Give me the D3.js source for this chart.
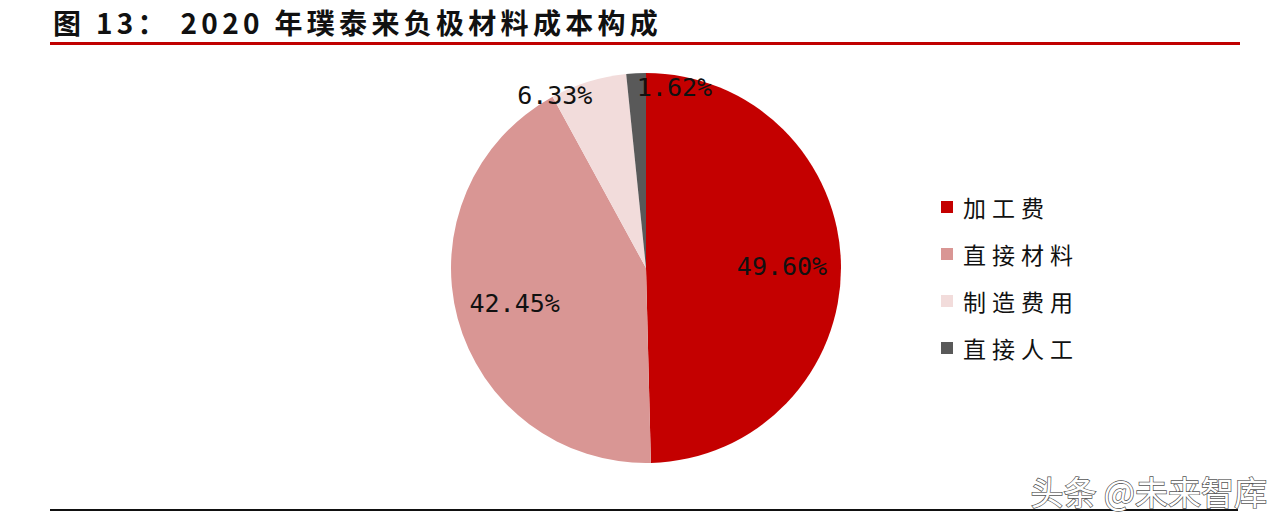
<!DOCTYPE html>
<html><head><meta charset="utf-8">
<script src="https://cdn.jsdelivr.net/npm/d3@7"></script>
<style>
body{margin:0;background:#fff;}
svg{display:block;}
</style></head>
<body>
<svg id="c" width="1282" height="524"></svg>
<script>
const title = "图 13： 2020 年璞泰来负极材料成本构成";
const categories = ["加工费", "直接材料", "制造费用", "直接人工"];
const values = [49.60, 42.45, 6.33, 1.62];
const labels = ["49.60%", "42.45%", "6.33%", "1.62%"];
const colors = ["#C40000", "#D99694", "#F2DCDB", "#595959"];
const watermark = "头条 @未来智库";

const svg = d3.select("#c");
const cx = 646, cy = 268, R = 195;

// title
svg.append("text").attr("x", 53).attr("y", 34)
  .attr("font-family", "'Noto Sans CJK SC', sans-serif")
  .attr("font-weight", "bold").attr("font-size", 28).attr("letter-spacing", 4.3).attr("fill", "#111")
  .text(title);
svg.append("line").attr("x1", 50).attr("x2", 1240).attr("y1", 43.5).attr("y2", 43.5)
  .attr("stroke", "#C00000").attr("stroke-width", 3);

// pie
const pie = d3.pie().sort(null).value(d => d)(values);
const arc = d3.arc().innerRadius(0).outerRadius(R);
const g = svg.append("g").attr("transform", `translate(${cx},${cy})`);
g.selectAll("path").data(pie).join("path")
  .attr("d", arc).attr("fill", (d, i) => colors[i]);

const inner = d3.arc().innerRadius(136).outerRadius(136);
const outer = d3.arc().innerRadius(181).outerRadius(181);
g.selectAll("text.lbl").data(pie).join("text").attr("class", "lbl")
  .attr("transform", (d, i) => {
    const c = (i < 2 ? inner : outer).centroid(d);
    return `translate(${c[0]},${c[1]})`;
  })
  .attr("text-anchor", (d, i) => i < 2 ? "middle" : (i === 2 ? "end" : "start"))
  .attr("dominant-baseline", "central")
  .attr("font-family", "'DejaVu Sans Mono', monospace")
  .attr("font-size", 25).attr("fill", "#111")
  .text((d, i) => labels[i]);

// legend
const ly = d3.scalePoint().domain(categories).range([207, 348]);
const lg = svg.append("g");
lg.selectAll("rect").data(categories).join("rect")
  .attr("x", 941).attr("y", d => ly(d) - 6).attr("width", 12).attr("height", 12)
  .attr("fill", (d, i) => colors[i]);
lg.selectAll("text").data(categories).join("text")
  .attr("x", 963).attr("y", d => ly(d)).attr("dominant-baseline", "central")
  .attr("font-family", "'Noto Sans CJK SC', sans-serif")
  .attr("font-size", 23).attr("letter-spacing", 6).attr("fill", "#111")
  .text(d => d);

// bottom line & watermark
svg.append("line").attr("x1", 50).attr("x2", 1238).attr("y1", 510).attr("y2", 510)
  .attr("stroke", "#111").attr("stroke-width", 2);
svg.append("text").attr("x", 1267).attr("y", 505).attr("text-anchor", "end")
  .attr("font-family", "'Noto Sans CJK SC', sans-serif")
  .attr("font-size", 33).attr("fill", "#fff")
  .attr("stroke", "#555").attr("stroke-width", 1.4).attr("paint-order", "stroke")
  .text(watermark);
</script>
</body></html>
